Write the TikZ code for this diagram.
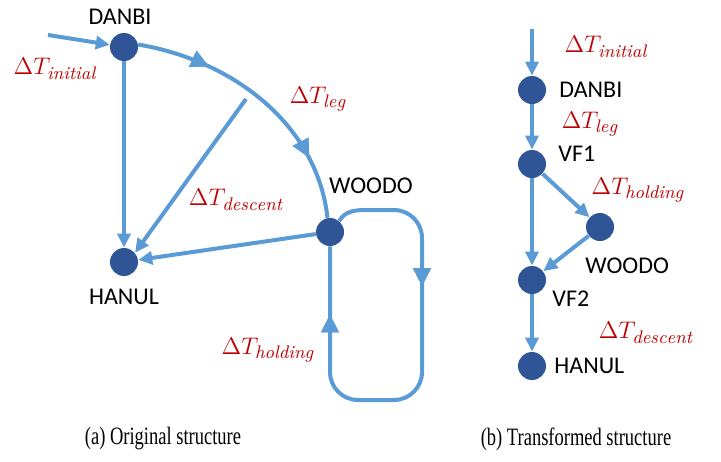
\documentclass[tikz,border=0pt]{standalone}
\usepackage{fontspec}
\usepackage{amsmath}
\usepackage{tikz}
\usetikzlibrary{positioning}
\usetikzlibrary{arrows.meta}
\usetikzlibrary{decorations.markings}
\newfontfamily\lblfont{Carlito}
\newfontfamily\capfont{Liberation Serif}
\definecolor{flowblue}{RGB}{91,155,213}
\definecolor{wptblue}{RGB}{47,85,151}
\definecolor{dtred}{RGB}{192,0,0}
\newcommand{\dT}[1]{$\Delta T_{\mathit{#1}}$}
\tikzset{
  wpt/.style={circle,fill=wptblue,inner sep=0pt,minimum size=14pt},
  wptname/.style={font=\lblfont\fontsize{12}{14}\selectfont,inner sep=1pt},
  dtlabel/.style={text=dtred,font=\fontsize{13}{15}\selectfont,inner sep=1pt},
  flow/.style={draw=flowblue,line width=2pt,-{Triangle[length=7pt,width=6.5pt]}},
  flowplain/.style={draw=flowblue,line width=2pt},
  midtip/.style={postaction={decorate},decoration={markings,
    mark=at position #1 with {\arrow{Triangle[length=9pt,width=8.5pt]}}}},
  captxt/.style={font=\capfont\fontsize{12.5}{14}\selectfont}
}
\begin{document}
\begin{tikzpicture}[x=0.5pt,y=-0.5pt]
\useasboundingbox (0,0) rectangle (721,461);
% (a) original structure
\node[wpt] (danbiA) at (124,47) {};
\node[wpt] (hanulA) at (124,262) {};
\node[wpt] (woodoA) at (330,232) {};
\node[wptname] (danbiAname) at (120,17) {DANBI};
\node[wptname] (hanulAname) at (124,297) {HANUL};
\node[wptname] (woodoAname) at (371,186) {WOODO};
\coordinate (startA) at (48,35);
\coordinate (descA) at (246,99);
\draw[flow] (startA) -- (danbiA);
\draw[flowplain,midtip=0.27,midtip=0.77,color=flowblue]
  (danbiA.10) .. controls (240,62) and (318,130) .. (woodoA.100);
\draw[flow] (danbiA) -- (hanulA);
\draw[flow] (descA) -- (hanulA.40);
\draw[flow] (woodoA) -- (hanulA);
\draw[flowplain,color=flowblue,midtip=0.31,midtip=0.86]
  (woodoA.50) to[out=60,in=180] (365,210)
  [rounded corners=14pt] -- (422,210) -- (422,400) -- (330,400) -- (woodoA.south);
\node[dtlabel] (initA) at (55,69) {\dT{initial}};
\node[dtlabel] (legA) at (318,99) {\dT{leg}};
\node[dtlabel] (descentA) at (236,200) {\dT{descent}};
\node[dtlabel] (holdA) at (268,350) {\dT{holding}};
% (b) transformed structure
\node[wpt] (danbiB) at (532,90) {};
\node[wpt] (vfoneB) at (532,164) {};
\node[wpt] (woodoB) at (600,227) {};
\node[wpt] (vftwoB) at (532,280) {};
\node[wpt] (hanulB) at (532,366) {};
\node[wptname,anchor=west] (danbiBname) at (557,90) {DANBI};
\node[wptname,anchor=west] (vfoneBname) at (556,154) {VF1};
\node[wptname,anchor=west] (woodoBname) at (583,266) {WOODO};
\node[wptname,anchor=west] (vftwoBname) at (550,299) {VF2};
\node[wptname,anchor=west] (hanulBname) at (552,366) {HANUL};
\coordinate (startB) at (532,29);
\draw[flow] (startB) -- (danbiB);
\draw[flow] (danbiB) -- (vfoneB);
\draw[flow] (vfoneB) -- (woodoB);
\draw[flow] (vfoneB) -- (vftwoB);
\draw[flow] (woodoB) -- (vftwoB);
\draw[flow] (vftwoB) -- (hanulB);
\node[dtlabel] (initB) at (606,47) {\dT{initial}};
\node[dtlabel] (legB) at (590,124) {\dT{leg}};
\node[dtlabel] (holdB) at (638,190) {\dT{holding}};
\node[dtlabel] (descentB) at (646,333) {\dT{descent}};
% captions
\node[captxt] (capA) at (163,439) {\scalebox{0.74}[1]{(a)\ Original structure}};
\node[captxt] (capB) at (576,439) {\scalebox{0.74}[1]{(b)\ Transformed structure}};
\end{tikzpicture}
\end{document}
